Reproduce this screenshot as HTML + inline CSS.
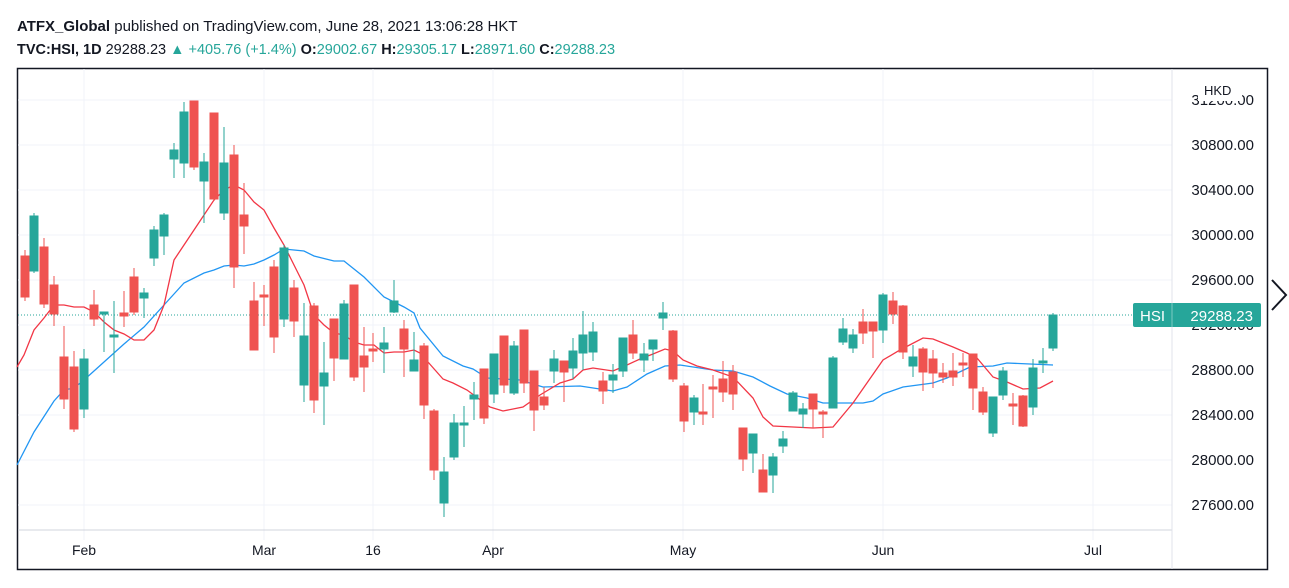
<!DOCTYPE html>
<html><head><meta charset="utf-8"><style>
body{margin:0;background:#fff;width:1289px;height:583px;overflow:hidden;font-family:"Liberation Sans",sans-serif}
</style></head><body>
<svg width="1289" height="583" xmlns="http://www.w3.org/2000/svg" font-family="Liberation Sans, sans-serif">
<rect width="1289" height="583" fill="#fff"/>
<text x="17" y="31" font-size="15" fill="#131722"><tspan font-weight="bold">ATFX_Global</tspan> published on TradingView.com, June 28, 2021 13:06:28 HKT</text>
<text x="17" y="54" font-size="14.5" fill="#131722"><tspan font-weight="bold">TVC:HSI, 1D</tspan> 29288.23 <tspan fill="#26a69a">▲ +405.76 (+1.4%)</tspan> <tspan font-weight="bold">O:</tspan><tspan fill="#26a69a">29002.67</tspan> <tspan font-weight="bold">H:</tspan><tspan fill="#26a69a">29305.17</tspan> <tspan font-weight="bold">L:</tspan><tspan fill="#26a69a">28971.60</tspan> <tspan font-weight="bold">C:</tspan><tspan fill="#26a69a">29288.23</tspan></text>
<rect x="17.5" y="68.5" width="1250" height="501" fill="none" stroke="#131722" stroke-width="1.5"/>
<g stroke="#f0f3fa" stroke-width="1">
<line x1="18" x2="1172" y1="100" y2="100"/><line x1="18" x2="1172" y1="145" y2="145"/><line x1="18" x2="1172" y1="190" y2="190"/><line x1="18" x2="1172" y1="235" y2="235"/><line x1="18" x2="1172" y1="280" y2="280"/><line x1="18" x2="1172" y1="325" y2="325"/><line x1="18" x2="1172" y1="370" y2="370"/><line x1="18" x2="1172" y1="415" y2="415"/><line x1="18" x2="1172" y1="460" y2="460"/><line x1="18" x2="1172" y1="505" y2="505"/>
<line x1="84" x2="84" y1="69" y2="540"/><line x1="264" x2="264" y1="69" y2="540"/><line x1="373" x2="373" y1="69" y2="540"/><line x1="493" x2="493" y1="69" y2="540"/><line x1="683" x2="683" y1="69" y2="540"/><line x1="883" x2="883" y1="69" y2="540"/><line x1="1093" x2="1093" y1="69" y2="540"/>
</g>
<line x1="18" x2="1172" y1="530" y2="530" stroke="#d1d4dc"/>
<line x1="1172" x2="1172" y1="69" y2="569" stroke="#e0e3eb"/>
<g font-size="15" fill="#131722" text-anchor="end">
<text x="1254" y="105">31200.00</text><text x="1254" y="150">30800.00</text><text x="1254" y="195">30400.00</text><text x="1254" y="240">30000.00</text><text x="1254" y="285">29600.00</text><text x="1254" y="330">29200.00</text><text x="1254" y="375">28800.00</text><text x="1254" y="420">28400.00</text><text x="1254" y="465">28000.00</text><text x="1254" y="510">27600.00</text>
</g>
<rect x="1198" y="79" width="44" height="22" fill="#fff"/>
<text x="1204" y="95" font-size="13" fill="#131722">HKD</text>
<g font-size="14" fill="#131722" text-anchor="middle">
<text x="84" y="555">Feb</text><text x="264" y="555">Mar</text><text x="373" y="555">16</text><text x="493" y="555">Apr</text><text x="683" y="555">May</text><text x="883" y="555">Jun</text><text x="1093" y="555">Jul</text>
</g>
<line x1="18" x2="1172" y1="315" y2="315" stroke="#26a69a" stroke-dasharray="1,2" stroke-width="1"/>
<polyline fill="none" stroke="#2196f3" stroke-width="1.3" points="17,465 34,432 54,401 64,390 74,388 84,380 104,362 124,344 144,327 164,305 184,283 204,273 214,270 224,266 234,265 244,266 254,264 264,260 274,255 284,249 294,250 304,251 314,256 334,261 344,261 364,277 384,297 404,307 414,313 420,328 443,356 463,366 473,369 487,378 520,380 543,387 580,386 613,391 627,387 647,374 665,366 680,365 713,370 733,371 753,377 770,386 787,394 807,398 823,403 847,403 863,403 873,401 883,394 903,387 933,383 947,378 970,367 993,366 1007,363 1030,364 1053,365"/>
<polyline fill="none" stroke="#f23645" stroke-width="1.3" points="17,367 24,355 34,330 44,318 54,305 64,305 74,307 84,307 94,312 104,322 114,330 124,334 134,340 144,340 154,330 164,305 174,260 184,245 194,230 204,215 214,200 224,190 234,185 244,190 254,202 264,210 274,228 284,245 294,265 304,285 314,315 324,325 334,333 344,335 354,342 364,345 374,345 384,353 394,352 404,352 414,350 420,353 443,379 453,383 467,390 490,407 503,411 523,407 540,395 560,383 573,379 583,370 593,368 613,371 627,365 640,359 653,354 665,349 673,351 683,360 697,366 713,370 733,377 753,398 763,417 773,426 793,427 813,428 833,427 853,403 883,360 900,350 923,338 933,339 953,347 967,353 977,358 993,377 1007,382 1023,389 1040,388 1053,381"/>
<g fill="#26a69a" stroke="#26a69a" stroke-width="1">
<line x1="34" x2="34" y1="213" y2="273"/><rect x="30" y="216" width="8" height="55"/>
<line x1="84" x2="84" y1="349" y2="418"/><rect x="80" y="359" width="8" height="50"/>
<line x1="104" x2="104" y1="312" y2="352"/><rect x="100" y="312" width="8" height="2"/>
<line x1="114" x2="114" y1="301" y2="373"/><rect x="110" y="335" width="8" height="2"/>
<line x1="144" x2="144" y1="288" y2="318"/><rect x="140" y="293" width="8" height="5"/>
<line x1="154" x2="154" y1="226" y2="266"/><rect x="150" y="230" width="8" height="28"/>
<line x1="164" x2="164" y1="213" y2="255"/><rect x="160" y="215" width="8" height="21"/>
<line x1="174" x2="174" y1="143" y2="178"/><rect x="170" y="150" width="8" height="9"/>
<line x1="184" x2="184" y1="102" y2="178"/><rect x="180" y="112" width="8" height="51"/>
<line x1="204" x2="204" y1="153" y2="223"/><rect x="200" y="162" width="8" height="19"/>
<line x1="224" x2="224" y1="127" y2="220"/><rect x="220" y="163" width="8" height="50"/>
<line x1="284" x2="284" y1="245" y2="327"/><rect x="280" y="248" width="8" height="71"/>
<line x1="304" x2="304" y1="303" y2="402"/><rect x="300" y="336" width="8" height="49"/>
<line x1="324" x2="324" y1="342" y2="425"/><rect x="320" y="373" width="8" height="13"/>
<line x1="344" x2="344" y1="300" y2="359"/><rect x="340" y="304" width="8" height="55"/>
<line x1="384" x2="384" y1="327" y2="373"/><rect x="380" y="343" width="8" height="6"/>
<line x1="394" x2="394" y1="280" y2="313"/><rect x="390" y="301" width="8" height="11"/>
<line x1="414" x2="414" y1="332" y2="371"/><rect x="410" y="360" width="8" height="11"/>
<line x1="444" x2="444" y1="457" y2="517"/><rect x="440" y="472" width="8" height="31"/>
<line x1="454" x2="454" y1="414" y2="460"/><rect x="450" y="423" width="8" height="34"/>
<line x1="464" x2="464" y1="406" y2="447"/><rect x="460" y="423" width="8" height="2"/>
<line x1="474" x2="474" y1="382" y2="420"/><rect x="470" y="395" width="8" height="4"/>
<line x1="494" x2="494" y1="354" y2="403"/><rect x="490" y="354" width="8" height="40"/>
<line x1="514" x2="514" y1="341" y2="395"/><rect x="510" y="346" width="8" height="47"/>
<line x1="554" x2="554" y1="350" y2="383"/><rect x="550" y="359" width="8" height="12"/>
<line x1="573" x2="573" y1="338" y2="379"/><rect x="569" y="351" width="8" height="17"/>
<line x1="583" x2="583" y1="311" y2="370"/><rect x="579" y="335" width="8" height="18"/>
<line x1="593" x2="593" y1="322" y2="361"/><rect x="589" y="332" width="8" height="20"/>
<line x1="613" x2="613" y1="364" y2="393"/><rect x="609" y="375" width="8" height="5"/>
<line x1="623" x2="623" y1="338" y2="377"/><rect x="619" y="338" width="8" height="33"/>
<line x1="644" x2="644" y1="343" y2="372"/><rect x="640" y="354" width="8" height="6"/>
<line x1="653" x2="653" y1="340" y2="361"/><rect x="649" y="340" width="8" height="9"/>
<line x1="663" x2="663" y1="302" y2="330"/><rect x="659" y="313" width="8" height="5"/>
<line x1="694" x2="694" y1="395" y2="425"/><rect x="690" y="398" width="8" height="14"/>
<line x1="753" x2="753" y1="434" y2="473"/><rect x="749" y="434" width="8" height="19"/>
<line x1="773" x2="773" y1="453" y2="493"/><rect x="769" y="457" width="8" height="18"/>
<line x1="783" x2="783" y1="431" y2="453"/><rect x="779" y="439" width="8" height="7"/>
<line x1="793" x2="793" y1="391" y2="411"/><rect x="789" y="393" width="8" height="18"/>
<line x1="803" x2="803" y1="403" y2="428"/><rect x="799" y="409" width="8" height="5"/>
<line x1="833" x2="833" y1="356" y2="408"/><rect x="829" y="358" width="8" height="50"/>
<line x1="843" x2="843" y1="318" y2="345"/><rect x="839" y="329" width="8" height="13"/>
<line x1="853" x2="853" y1="329" y2="353"/><rect x="849" y="335" width="8" height="13"/>
<line x1="883" x2="883" y1="293" y2="343"/><rect x="879" y="295" width="8" height="35"/>
<line x1="913" x2="913" y1="345" y2="377"/><rect x="909" y="357" width="8" height="9"/>
<line x1="993" x2="993" y1="397" y2="437"/><rect x="989" y="397" width="8" height="36"/>
<line x1="1003" x2="1003" y1="367" y2="400"/><rect x="999" y="371" width="8" height="24"/>
<line x1="1033" x2="1033" y1="359" y2="415"/><rect x="1029" y="368" width="8" height="39"/>
<line x1="1043" x2="1043" y1="348" y2="373"/><rect x="1039" y="361" width="8" height="2"/>
<line x1="1053" x2="1053" y1="313" y2="351"/><rect x="1049" y="315" width="8" height="33"/>
</g>
<g fill="#ef5350" stroke="#ef5350" stroke-width="1">
<line x1="25" x2="25" y1="250" y2="301"/><rect x="21" y="256" width="8" height="41"/>
<line x1="44" x2="44" y1="238" y2="308"/><rect x="40" y="247" width="8" height="57"/>
<line x1="54" x2="54" y1="276" y2="326"/><rect x="50" y="285" width="8" height="29"/>
<line x1="64" x2="64" y1="326" y2="409"/><rect x="60" y="357" width="8" height="42"/>
<line x1="74" x2="74" y1="351" y2="432"/><rect x="70" y="367" width="8" height="62"/>
<line x1="94" x2="94" y1="290" y2="326"/><rect x="90" y="305" width="8" height="14"/>
<line x1="124" x2="124" y1="291" y2="327"/><rect x="120" y="313" width="8" height="3"/>
<line x1="134" x2="134" y1="268" y2="315"/><rect x="130" y="277" width="8" height="35"/>
<line x1="194" x2="194" y1="101" y2="170"/><rect x="190" y="101" width="8" height="66"/>
<line x1="214" x2="214" y1="113" y2="201"/><rect x="210" y="113" width="8" height="86"/>
<line x1="234" x2="234" y1="145" y2="288"/><rect x="230" y="155" width="8" height="112"/>
<line x1="244" x2="244" y1="183" y2="254"/><rect x="240" y="215" width="8" height="11"/>
<line x1="254" x2="254" y1="282" y2="350"/><rect x="250" y="301" width="8" height="49"/>
<line x1="264" x2="264" y1="285" y2="326"/><rect x="260" y="295" width="8" height="2"/>
<line x1="274" x2="274" y1="260" y2="353"/><rect x="270" y="267" width="8" height="70"/>
<line x1="294" x2="294" y1="280" y2="337"/><rect x="290" y="288" width="8" height="33"/>
<line x1="314" x2="314" y1="303" y2="413"/><rect x="310" y="306" width="8" height="94"/>
<line x1="334" x2="334" y1="319" y2="381"/><rect x="330" y="319" width="8" height="39"/>
<line x1="354" x2="354" y1="285" y2="381"/><rect x="350" y="285" width="8" height="92"/>
<line x1="364" x2="364" y1="327" y2="392"/><rect x="360" y="356" width="8" height="11"/>
<line x1="373" x2="373" y1="333" y2="362"/><rect x="369" y="349" width="8" height="2"/>
<line x1="404" x2="404" y1="320" y2="377"/><rect x="400" y="329" width="8" height="20"/>
<line x1="424" x2="424" y1="343" y2="419"/><rect x="420" y="346" width="8" height="59"/>
<line x1="434" x2="434" y1="409" y2="480"/><rect x="430" y="411" width="8" height="59"/>
<line x1="484" x2="484" y1="369" y2="424"/><rect x="480" y="369" width="8" height="49"/>
<line x1="504" x2="504" y1="336" y2="393"/><rect x="500" y="336" width="8" height="49"/>
<line x1="524" x2="524" y1="330" y2="393"/><rect x="520" y="330" width="8" height="53"/>
<line x1="534" x2="534" y1="371" y2="431"/><rect x="530" y="371" width="8" height="39"/>
<line x1="544" x2="544" y1="387" y2="410"/><rect x="540" y="397" width="8" height="8"/>
<line x1="564" x2="564" y1="361" y2="402"/><rect x="560" y="361" width="8" height="11"/>
<line x1="603" x2="603" y1="372" y2="404"/><rect x="599" y="381" width="8" height="10"/>
<line x1="633" x2="633" y1="320" y2="359"/><rect x="629" y="335" width="8" height="18"/>
<line x1="673" x2="673" y1="330" y2="382"/><rect x="669" y="331" width="8" height="48"/>
<line x1="684" x2="684" y1="383" y2="432"/><rect x="680" y="386" width="8" height="35"/>
<line x1="703" x2="703" y1="384" y2="425"/><rect x="699" y="412" width="8" height="2"/>
<line x1="713" x2="713" y1="375" y2="418"/><rect x="709" y="387" width="8" height="2"/>
<line x1="723" x2="723" y1="361" y2="402"/><rect x="719" y="379" width="8" height="13"/>
<line x1="733" x2="733" y1="365" y2="410"/><rect x="729" y="372" width="8" height="22"/>
<line x1="743" x2="743" y1="428" y2="471"/><rect x="739" y="428" width="8" height="31"/>
<line x1="763" x2="763" y1="454" y2="492"/><rect x="759" y="470" width="8" height="22"/>
<line x1="813" x2="813" y1="394" y2="428"/><rect x="809" y="394" width="8" height="15"/>
<line x1="823" x2="823" y1="410" y2="438"/><rect x="819" y="412" width="8" height="2"/>
<line x1="863" x2="863" y1="309" y2="344"/><rect x="859" y="322" width="8" height="11"/>
<line x1="873" x2="873" y1="322" y2="358"/><rect x="869" y="322" width="8" height="9"/>
<line x1="893" x2="893" y1="292" y2="324"/><rect x="889" y="301" width="8" height="13"/>
<line x1="903" x2="903" y1="305" y2="359"/><rect x="899" y="306" width="8" height="46"/>
<line x1="923" x2="923" y1="347" y2="391"/><rect x="919" y="349" width="8" height="23"/>
<line x1="933" x2="933" y1="350" y2="388"/><rect x="929" y="359" width="8" height="14"/>
<line x1="943" x2="943" y1="363" y2="383"/><rect x="939" y="373" width="8" height="4"/>
<line x1="953" x2="953" y1="353" y2="386"/><rect x="949" y="371" width="8" height="6"/>
<line x1="963" x2="963" y1="353" y2="377"/><rect x="959" y="363" width="8" height="2"/>
<line x1="973" x2="973" y1="354" y2="410"/><rect x="969" y="354" width="8" height="34"/>
<line x1="983" x2="983" y1="387" y2="415"/><rect x="979" y="392" width="8" height="20"/>
<line x1="1013" x2="1013" y1="393" y2="425"/><rect x="1009" y="404" width="8" height="2"/>
<line x1="1023" x2="1023" y1="395" y2="427"/><rect x="1019" y="396" width="8" height="30"/>
</g>
<rect x="1133" y="303" width="128" height="24" rx="2" fill="#26a69a"/>
<line x1="1172" x2="1172" y1="303" y2="327" stroke="#fff" stroke-opacity="0.4"/>
<text x="1140" y="321" font-size="15" fill="#fff">HSI</text>
<text x="1253" y="321" font-size="15" fill="#fff" text-anchor="end">29288.23</text>
<polyline points="1272,280 1286,295 1272,310" fill="none" stroke="#131722" stroke-width="2"/>
</svg>
</body></html>
